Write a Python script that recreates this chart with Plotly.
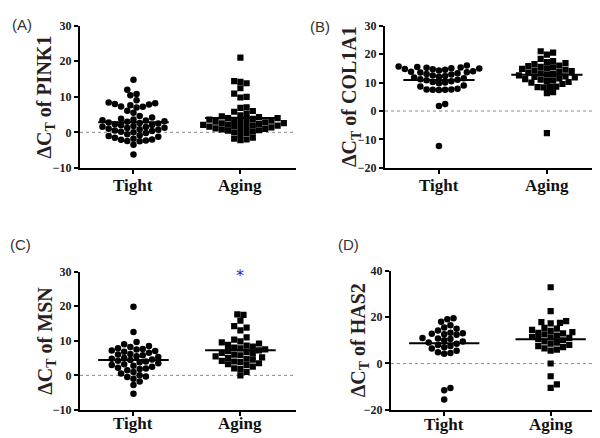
import plotly.graph_objects as go

# --- DATA ---
groups = ["Tight", "Aging"]

pink1_tight = [14.8, 12.0, 10.8, 10.4, 9.0, 8.4, 8.2, 8.0, 7.8, 7.6, 7.3, 7.2, 7.0, 6.1, 5.5,
               4.6, 4.2, 3.8, 3.6, 3.4, 3.3, 3.1, 3.0, 2.8, 2.6, 2.5, 2.3, 2.1, 2.0, 1.8, 1.6,
               1.5, 1.3, 1.2, 1.0, 0.9, 0.7, 0.5, 0.4, 0.2, 0.0, -0.2, -0.5, -0.8, -1.0, -1.2,
               -1.5, -1.8, -2.0, -2.1, -2.3, -2.5, -2.4, -3.5, -6.2]
pink1_aging = [21.0, 14.4, 14.2, 13.8, 12.4, 10.9, 10.0, 9.8, 7.0, 6.9, 6.0, 5.8, 5.2, 4.8, 4.5,
               4.3, 4.0, 4.0, 3.8, 3.6, 3.5, 3.3, 3.2, 3.0, 2.9, 2.8, 2.6, 2.5, 2.4, 2.2, 2.1,
               2.0, 1.9, 1.8, 1.6, 1.5, 1.4, 1.2, 1.1, 1.0, 0.8, 0.6, 0.5, 0.3, 0.0, -0.2, -0.5,
               -1.5, -1.8, -2.0, -2.2]

col1a1_tight = [16.0, 15.6, 15.5, 15.3, 15.2, 15.0, 14.9, 14.8, 14.7, 14.5, 14.2, 14.0, 13.8,
                13.6, 13.5, 13.3, 13.0, 12.8, 12.5, 12.3, 12.0, 11.8, 11.5, 11.2, 11.0, 10.8,
                10.5, 10.2, 10.0, 9.8, 9.0, 8.6, 7.8, 7.6, 7.6, 7.5, 7.5, 7.4, 2.5, 1.8, -12.3]
col1a1_aging = [21.0, 20.5, 19.8, 18.3, 17.5, 17.2, 16.8, 16.5, 16.0, 15.8, 15.5, 15.3, 15.0,
                14.8, 14.5, 14.2, 14.0, 13.8, 13.5, 13.2, 13.0, 12.8, 12.5, 12.2, 12.0, 11.8,
                11.5, 11.2, 11.0, 10.8, 10.5, 10.2, 10.0, 9.5, 8.6, 8.5, 8.4, 8.3, 6.6, 6.3, -7.8]

msn_tight = [19.8, 12.5, 9.6, 9.0, 8.5, 8.2, 7.8, 7.6, 7.5, 7.2, 7.0, 6.8, 6.5, 6.2, 6.0, 5.8,
             5.5, 5.3, 5.0, 4.8, 4.6, 4.4, 4.2, 4.0, 3.8, 3.5, 3.2, 3.0, 2.8, 2.5, 2.2, 2.0,
             1.8, 1.5, 1.0, 0.5, 0.0, -0.3, -0.5, -1.0, -1.8, -2.8, -5.3]
msn_aging = [17.6, 17.5, 15.8, 14.2, 13.8, 13.0, 11.0, 10.3, 9.8, 9.5, 9.2, 8.8, 8.6, 8.3, 8.0,
             7.8, 7.5, 7.2, 7.0, 6.8, 6.5, 6.3, 6.0, 5.8, 5.5, 5.2, 5.0, 4.8, 4.5, 4.2, 4.0,
             3.8, 3.5, 3.2, 3.0, 2.5, 2.0, 1.8, 1.0, 0.0]

has2_tight = [19.5, 19.0, 18.0, 16.5, 15.5, 15.0, 14.2, 13.2, 13.0, 12.8, 12.6, 12.4, 11.0,
              10.8, 10.5, 10.0, 9.5, 9.0, 8.5, 8.0, 7.5, 7.0, 6.5, 5.5, 4.8, 4.5, 4.2,
              -10.5, -11.5, -15.5]
has2_aging = [32.8, 22.5, 18.2, 17.8, 17.5, 17.3, 15.3, 15.0, 14.5, 14.0, 13.5, 13.2, 13.0,
              12.5, 12.0, 11.5, 11.2, 11.0, 10.5, 10.0, 9.5, 9.0, 8.5, 8.0, 7.5, 7.0, 6.5,
              6.0, 5.5, 0.0, -5.5, -9.0, -10.5]

genes = ["PINK1", "COL1A1", "MSN", "HAS2"]
panel_letters = ["(A)", "(B)", "(C)", "(D)"]
y_ranges = [[-10, 30], [-20, 30], [-10, 30], [-20, 40]]
y_dticks = [10, 10, 10, 20]
msn_star_y = 29.5

W, H = 600, 438
SERIF = "Liberation Serif"

# --- LAYOUT GEOMETRY (pixels in the 600x438 page) ---
x_domains = [[0.12, 0.48], [0.6283, 0.9917], [0.12, 0.48], [0.6383, 0.9967]]
y_domains = [[0.6393, 0.9749], [0.6393, 0.9749], [0.0685, 0.3950], [0.0685, 0.3973]]
title_x = [0.063, 0.572, 0.065, 0.585]
group_label_y = [0.598, 0.598, 0.036, 0.034]
letter_pos = [(0.0225, 0.977), (0.52, 0.972), (0.0215, 0.459), (0.567, 0.459)]
x_range = [-0.5, 1.52]


def swarm(vals, ppu_y, ppu_x, d=6.2, step=3.1):
    # simple greedy beeswarm: horizontal offsets so markers don't overlap much
    placed = []
    offsets = [0.0] * len(vals)
    order = sorted(range(len(vals)), key=lambda i: vals[i])
    for i in order:
        y = vals[i] * ppu_y
        k = 0
        while True:
            cands = [0.0] if k == 0 else [k * step, -k * step]
            ok = None
            for cx in cands:
                if all((cx - px) ** 2 + (y - py) ** 2 >= d * d for px, py in placed):
                    ok = cx
                    break
            if ok is not None:
                placed.append((ok, y))
                offsets[i] = ok / ppu_x
                break
            k += 1
    return offsets


data = [(pink1_tight, pink1_aging), (col1a1_tight, col1a1_aging),
        (msn_tight, msn_aging), (has2_tight, has2_aging)]

fig = go.Figure()
annotations = []
shapes = []

for p in range(4):
    xa = "x" if p == 0 else f"x{p + 1}"
    ya = "y" if p == 0 else f"y{p + 1}"
    dom_w = (x_domains[p][1] - x_domains[p][0]) * W
    dom_h = (y_domains[p][1] - y_domains[p][0]) * H
    ppu_x = dom_w / (x_range[1] - x_range[0])
    ppu_y = dom_h / (y_ranges[p][1] - y_ranges[p][0])

    for g, (vals, symbol) in enumerate(zip(data[p], ["circle", "square"])):
        offs = swarm(vals, ppu_y, ppu_x)
        fig.add_trace(go.Scatter(
            x=[g + o for o in offs], y=vals, mode="markers",
            marker=dict(symbol=symbol, size=6.5 if symbol == "circle" else 6.2,
                        color="black", line=dict(width=0)),
            xaxis=xa, yaxis=ya, showlegend=False, hoverinfo="y"))
        mean = sum(vals) / len(vals)
        fig.add_trace(go.Scatter(
            x=[g - 0.33, g + 0.33], y=[mean, mean], mode="lines",
            line=dict(color="black", width=2), xaxis=xa, yaxis=ya,
            showlegend=False, hoverinfo="skip"))
        # group label under the axis
        annotations.append(dict(
            text=groups[g], xref=xa, yref="paper", x=g, y=group_label_y[p],
            showarrow=False, xanchor="center", yanchor="middle",
            font=dict(family=SERIF, size=17, color="#111", weight="bold")))

    # dotted zero reference line
    shapes.append(dict(type="line", xref=f"{xa} domain", yref=ya, x0=0, x1=1, y0=0, y1=0,
                       line=dict(color="#8a8a8a", width=1, dash="dot"), layer="below"))

    fig.update_layout(**{
        ("xaxis" if p == 0 else f"xaxis{p + 1}"): dict(
            domain=x_domains[p], anchor=ya, range=x_range, tickmode="array",
            tickvals=[0, 1], showticklabels=False, showline=True, linecolor="black",
            linewidth=2, ticks="outside", ticklen=4, tickwidth=1.5, tickcolor="black",
            showgrid=False, zeroline=False, fixedrange=True),
        ("yaxis" if p == 0 else f"yaxis{p + 1}"): dict(
            domain=y_domains[p], anchor=xa, range=y_ranges[p], dtick=y_dticks[p],
            showline=True, linecolor="black", linewidth=2, ticks="outside", ticklen=4,
            tickwidth=1.5, tickcolor="black",
            tickfont=dict(family=SERIF, size=12, color="#1c1c1c", weight="bold"),
            showgrid=False, zeroline=False, fixedrange=True),
    })

    annotations.append(dict(
        text=f"ΔC<sub>T</sub> of {genes[p]}", xref="paper", yref="paper",
        x=title_x[p], y=sum(y_domains[p]) / 2, textangle=-90, showarrow=False,
        xanchor="center", yanchor="middle",
        font=dict(family=SERIF, size=20, color="#2a1f1f", weight="bold")))
    annotations.append(dict(
        text=panel_letters[p], xref="paper", yref="paper", x=letter_pos[p][0],
        y=letter_pos[p][1], showarrow=False, xanchor="center", yanchor="middle",
        font=dict(family="Liberation Sans", size=15, color="#333")))

# significance star over MSN Aging
annotations.append(dict(text="*", xref="x3", yref="y3", x=1, y=msn_star_y, showarrow=False,
                        yshift=-2, xanchor="center", yanchor="middle",
                        font=dict(family="DejaVu Sans", size=16, color="#2020ff")))

fig.update_layout(width=W, height=H, margin=dict(l=0, r=0, t=0, b=0),
                  paper_bgcolor="white", plot_bgcolor="white",
                  annotations=annotations, shapes=shapes)

fig.write_html("out.html")
